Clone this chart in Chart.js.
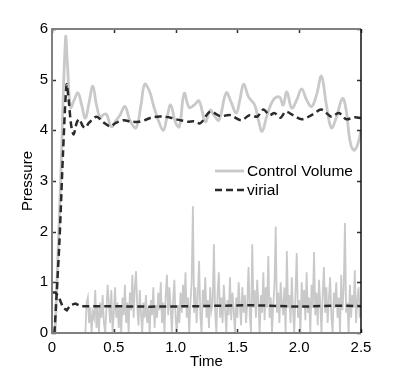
<!DOCTYPE html>
<html>
<head>
<meta charset="utf-8">
<script src="https://cdn.jsdelivr.net/npm/chart.js@4.4.0/dist/chart.umd.min.js"></script>
<style>
  body { margin: 0; background: #fff; }
  canvas { display: block; }
</style>
</head>
<body>
<canvas id="chart" width="399" height="374"></canvas>
<script>
// upper trace of control volume pressure (time, pressure)
const cvTime = [0.025, 0.07, 0.11, 0.125, 0.15, 0.18, 0.21, 0.24, 0.27, 0.3, 0.33, 0.36, 0.39, 0.41, 0.44, 0.48, 0.52, 0.55, 0.59, 0.63, 0.68, 0.72, 0.75, 0.79, 0.82, 0.86, 0.9, 0.93, 0.96, 1.0, 1.03, 1.07, 1.11, 1.15, 1.19, 1.24, 1.28, 1.31, 1.35, 1.41, 1.45, 1.49, 1.52, 1.55, 1.59, 1.64, 1.67, 1.7, 1.74, 1.79, 1.84, 1.87, 1.9, 1.94, 1.98, 2.02, 2.06, 2.1, 2.14, 2.18, 2.22, 2.26, 2.3, 2.35, 2.38, 2.41, 2.44, 2.47, 2.5];
const cvPressure = [0, 3.0, 5.83, 5.3, 4.45, 4.6, 4.74, 4.5, 4.24, 4.55, 4.87, 4.5, 4.24, 4.3, 4.32, 4.07, 4.2, 4.3, 4.47, 4.2, 4.05, 4.5, 4.91, 4.76, 4.5, 4.2, 4.0, 4.25, 4.5, 4.15, 4.07, 4.73, 4.45, 4.5, 4.58, 4.17, 4.4, 4.3, 4.2, 4.74, 4.55, 4.34, 4.6, 4.91, 4.66, 4.5, 4.2, 3.98, 4.3, 4.6, 4.66, 4.5, 4.76, 4.44, 4.6, 4.82, 4.6, 4.47, 4.7, 5.07, 4.5, 4.05, 4.25, 4.63, 4.4, 3.8, 3.61, 3.7, 4.0];

// upper virial trace
const virTime = [0.02, 0.06, 0.09, 0.118, 0.135, 0.155, 0.175, 0.2, 0.22, 0.25, 0.27, 0.3, 0.36, 0.42, 0.47, 0.52, 0.58, 0.64, 0.7, 0.75, 0.8, 0.85, 0.9, 0.96, 1.0, 1.04, 1.1, 1.15, 1.2, 1.28, 1.36, 1.44, 1.53, 1.6, 1.66, 1.71, 1.76, 1.8, 1.85, 1.89, 1.95, 2.02, 2.1, 2.18, 2.26, 2.32, 2.38, 2.45, 2.5];
const virPressure = [0, 1.8, 3.6, 4.9, 4.6, 4.1, 3.92, 4.15, 4.22, 4.08, 4.05, 4.15, 4.27, 4.15, 4.08, 4.15, 4.2, 4.17, 4.17, 4.2, 4.25, 4.27, 4.27, 4.25, 4.22, 4.2, 4.17, 4.18, 4.14, 4.37, 4.28, 4.3, 4.2, 4.3, 4.27, 4.41, 4.3, 4.34, 4.25, 4.37, 4.3, 4.22, 4.3, 4.41, 4.27, 4.34, 4.22, 4.26, 4.24];

// lower virial trace
const virLowTime = [0, 0.03, 0.06, 0.09, 0.12, 0.15, 0.19, 0.23, 0.4, 0.8, 1.2, 1.6, 2.0, 2.3, 2.5];
const virLowPressure = [0.8, 0.8, 0.68, 0.5, 0.45, 0.55, 0.58, 0.53, 0.53, 0.52, 0.53, 0.55, 0.52, 0.54, 0.53];

// lower control volume trace, sampled every 0.01 from t = 0.27
const cvLowStart = 0.27;
const cvLowStep = 0.01;
const cvLowPressure = [
  0.0, 0.6, 0.7, 0.2, 0.5, 0.0, 0.4, 0.3, 0.85, 0.1,
  0.5, 0.0, 0.6, 0.3, 0.75, 0.2, 0.0, 0.45, 0.95, 0.6,
  0.2, 0.85, 0.0, 0.4, 0.9, 0.3, 0.6, 0.1, 0.5, 0.0,
  0.7, 0.35, 0.95, 0.2, 0.6, 0.0, 0.8, 0.45, 1.15, 0.3,
  0.9, 1.22, 0.5, 0.15, 0.85, 0.4, 0.0, 0.6, 0.3, 0.75,
  0.2, 0.5, 0.0, 0.65, 0.35, 0.9, 0.1, 0.55, 0.3, 0.8,
  0.45, 1.0, 0.2, 0.6, 0.0, 0.75, 1.15, 0.35, 0.9, 0.5,
  0.0, 0.65, 1.05, 0.3, 0.0, 0.55, 0.2, 0.8, 0.4, 0.95,
  0.5, 1.2, 0.3, 0.7, 0.0, 0.6, 1.0, 2.5, 0.4, 0.9,
  0.2, 0.75, 1.42, 0.35, 0.0, 0.85, 0.5, 1.1, 0.3, 0.65,
  0.1, 0.9, 0.45, 0.6, 1.75, 0.4, 0.0, 0.8, 1.2, 0.3,
  0.7, 0.2, 0.95, 0.5, 0.0, 0.65, 0.35, 1.1, 0.25, 0.8,
  0.45, 0.0, 0.7, 0.3, 1.0, 0.55, 0.15, 0.9, 0.4, 0.75,
  0.2, 0.6, 1.3, 0.35, 0.0, 1.75, 0.5, 0.85, 0.3, 1.05,
  0.6, 0.0, 0.75, 0.4, 1.2, 0.25, 0.9, 0.5, 1.52, 0.3,
  0.7, 0.0, 0.55, 0.95, 2.1, 0.4, 0.8, 0.2, 1.0, 0.6,
  0.35, 0.9, 0.0, 1.62, 0.5, 0.75, 0.2, 1.1, 0.45, 0.0,
  0.8, 1.58, 0.3, 0.65, 0.0, 1.0, 0.5, 0.85, 0.25, 1.2,
  0.4, 0.7, 0.0, 0.95, 0.5, 1.6, 0.35, 0.8, 0.15, 1.05,
  0.6, 0.0, 0.75, 1.3, 0.4, 0.9, 0.2, 0.65, 1.1, 0.35,
  0.0, 0.8, 0.5, 1.0, 0.3, 0.7, 0.0, 1.15, 0.45, 0.85,
  2.17, 0.4, 0.6, 0.0, 0.95, 0.3, 0.75, 0.5, 1.24, 0.2,
  0.65, 0.9, 0.3, 0.5
];

const xTicks = [0, 0.5, 1, 1.5, 2, 2.5];
const yTicks = [0, 1, 2, 3, 4, 5, 6];

const FONT = '"Liberation Sans", Arial, Helvetica, sans-serif';
const GREY = '#c9c9c9';
const DARK = '#2b2b2b';

function pairs(xs, ys) {
  return xs.map((x, i) => ({ x: x, y: ys[i] }));
}

const cvLow = cvLowPressure.map((p, i) => ({ x: +(cvLowStart + i * cvLowStep).toFixed(2), y: p }));

// box round the plot and inward tick marks, like the original figure
const boxPlugin = {
  id: 'box',
  afterDatasetsDraw(chart) {
    const { ctx, chartArea: a, scales } = chart;
    ctx.save();
    ctx.lineWidth = 1.5;
    ctx.strokeStyle = '#333';
    xTicks.forEach(v => {
      const px = Math.round(scales.x.getPixelForValue(v)) + 0.5;
      ctx.beginPath();
      ctx.moveTo(px, a.bottom); ctx.lineTo(px, a.bottom - 4);
      ctx.moveTo(px, a.top); ctx.lineTo(px, a.top + 4);
      ctx.stroke();
    });
    yTicks.forEach(v => {
      const py = Math.round(scales.y.getPixelForValue(v)) + 0.5;
      ctx.beginPath();
      ctx.moveTo(a.left, py); ctx.lineTo(a.left + 4, py);
      ctx.moveTo(a.right, py); ctx.lineTo(a.right - 4, py);
      ctx.stroke();
    });
    ctx.lineWidth = 2;
    ctx.strokeStyle = '#808080';
    ctx.beginPath();
    ctx.moveTo(a.right, a.top); ctx.lineTo(a.left, a.top);
    ctx.lineTo(a.left, a.bottom); ctx.lineTo(a.right, a.bottom);
    ctx.stroke();
    ctx.strokeStyle = '#111';
    ctx.lineWidth = 1.5;
    ctx.beginPath();
    ctx.moveTo(a.right, a.top); ctx.lineTo(a.right, a.bottom);
    ctx.stroke();

    // legend inside the plot
    const items = [chart.data.datasets[0], chart.data.datasets[1]];
    ctx.font = '15.5px ' + FONT;
    ctx.textBaseline = 'middle';
    ctx.fillStyle = '#000';
    items.forEach((ds, i) => {
      const y = 171 + i * 19;
      ctx.beginPath();
      ctx.lineWidth = ds.borderWidth;
      ctx.strokeStyle = ds.borderColor;
      ctx.setLineDash(ds.borderDash || []);
      ctx.moveTo(215, y); ctx.lineTo(244, y);
      ctx.stroke();
      ctx.setLineDash([]);
      ctx.fillText(ds.label, 247, y + 1);
    });
    ctx.restore();
  }
};

new Chart(document.getElementById('chart'), {
  type: 'line',
  data: {
    datasets: [
      { label: 'Control Volume', data: pairs(cvTime, cvPressure), borderColor: GREY, borderWidth: 2.8, tension: 0.4, order: 2 },
      { label: 'virial', data: pairs(virTime, virPressure), borderColor: DARK, borderWidth: 2.5, borderDash: [7, 4], tension: 0.3, order: 0 },
      { label: 'cv-low', data: cvLow, borderColor: GREY, borderWidth: 1.8, tension: 0, order: 3 },
      { label: 'virial-low', data: pairs(virLowTime, virLowPressure), borderColor: DARK, borderWidth: 2.5, borderDash: [7, 4], tension: 0, order: 1 }
    ]
  },
  options: {
    responsive: false,
    animation: false,
    layout: { padding: { top: 29, right: 38, left: 0, bottom: 0 } },
    elements: { point: { radius: 0 } },
    plugins: { legend: { display: false }, tooltip: { enabled: false } },
    scales: {
      x: {
        type: 'linear', min: 0, max: 2.5,
        afterBuildTicks(s) { s.ticks = xTicks.map(v => ({ value: v })); },
        afterFit(s) { s.height = 41; },
        grid: { display: false, drawTicks: false },
        border: { display: false },
        ticks: { color: '#000', padding: 6, maxRotation: 0, font: { family: FONT, size: 15 } },
        title: { display: true, text: 'Time', color: '#000', padding: { bottom: 3, top: 0 }, font: { family: FONT, size: 15 } }
      },
      y: {
        type: 'linear', min: 0, max: 6,
        afterBuildTicks(s) { s.ticks = yTicks.map(v => ({ value: v })); },
        afterFit(s) { s.width = 52; },
        grid: { display: false, drawTicks: false },
        border: { display: false },
        ticks: { color: '#000', padding: 4, font: { family: FONT, size: 15 } },
        title: { display: true, text: 'Pressure', color: '#000', padding: { top: 19, bottom: 0 }, font: { family: FONT, size: 15 } }
      }
    }
  },
  plugins: [boxPlugin]
});
</script>
</body>
</html>
